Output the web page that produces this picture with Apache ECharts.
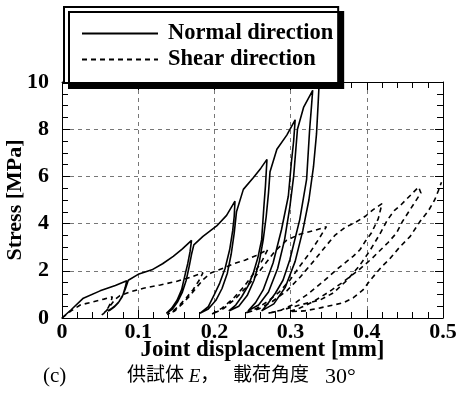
<!DOCTYPE html>
<html>
<head>
<meta charset="utf-8">
<script src="https://cdn.jsdelivr.net/npm/echarts@6/dist/echarts.min.js"></script>
<style>
  html, body { margin: 0; padding: 0; background: #fff; }
  #chart { width: 458px; height: 397px; }
</style>
</head>
<body>
<div id="chart"></div>
<script>
const seriesNames = ["Normal direction", "Shear direction"];
const xTickLabels = ["0", "0.1", "0.2", "0.3", "0.4", "0.5"];
const yTickLabels = ["0", "2", "4", "6", "8", "10"];
const xAxisTitle = "Joint displacement [mm]";
const yAxisTitle = "Stress [MPa]";
// caption pieces: (c) / 供試体 E， / 載荷角度 / 30°
const captionParts = ["(c)", "供試体 {i|E}，", "載荷角度", "30°"];

// normal direction: one continuous record, envelope + 6 unload/reload loops
const normalPath = [
  [0, 0], [0.012, 0.35], [0.028, 0.84], [0.05, 1.15], [0.07, 1.38], [0.085, 1.58],
  // loop 1
  [0.083, 1.3], [0.08, 0.98], [0.075, 0.7], [0.069, 0.5], [0.064, 0.38], [0.06, 0.3],
  [0.063, 0.33], [0.068, 0.45], [0.074, 0.65], [0.079, 0.9], [0.083, 1.22], [0.087, 1.6],
  [0.1, 1.85], [0.118, 2.04], [0.132, 2.3], [0.146, 2.61], [0.158, 2.93], [0.17, 3.29],
  // loop 2
  [0.168, 2.8], [0.165, 2.3], [0.162, 1.9], [0.157, 1.2], [0.151, 0.75], [0.144, 0.42], [0.137, 0.2],
  [0.145, 0.38], [0.152, 0.7], [0.158, 1.1], [0.163, 1.6], [0.167, 2.2], [0.17, 2.7], [0.173, 3.1],
  [0.185, 3.46], [0.203, 3.9], [0.216, 4.35], [0.227, 4.95],
  // loop 3
  [0.226, 4.3], [0.224, 3.7], [0.22, 2.89], [0.214, 2.1], [0.207, 1.48], [0.2, 1.0], [0.192, 0.48], [0.181, 0.2],
  [0.192, 0.38], [0.202, 0.75], [0.21, 1.25], [0.217, 1.9], [0.222, 2.7], [0.226, 3.6], [0.229, 4.5],
  [0.238, 5.45], [0.251, 5.94], [0.261, 6.35], [0.269, 6.72],
  // loop 4
  [0.267, 5.6], [0.265, 4.74], [0.262, 3.32], [0.257, 2.55], [0.251, 1.9], [0.244, 1.35], [0.236, 0.91], [0.228, 0.55], [0.219, 0.3],
  [0.232, 0.5], [0.243, 0.95], [0.252, 1.6], [0.259, 2.4], [0.264, 3.3], [0.268, 4.3], [0.271, 5.3], [0.273, 6.2],
  [0.282, 7.15], [0.295, 7.75], [0.306, 8.4],
  // loop 5
  [0.304, 7.5], [0.301, 6.58], [0.297, 5.16], [0.288, 3.74], [0.277, 2.33], [0.264, 1.19], [0.254, 0.65], [0.244, 0.3],
  [0.258, 0.55], [0.271, 1.1], [0.283, 2.1], [0.292, 3.3], [0.299, 4.7], [0.304, 6.0], [0.307, 7.2], [0.309, 8.0],
  [0.317, 8.92], [0.329, 9.65],
  // loop 6 + final loading
  [0.327, 8.8], [0.325, 8.0], [0.321, 5.87], [0.312, 4.17], [0.299, 2.47], [0.29, 1.6], [0.28, 1.05], [0.27, 0.6], [0.262, 0.3],
  [0.278, 0.6], [0.293, 1.3], [0.306, 2.4], [0.316, 3.7], [0.324, 5.0], [0.33, 6.4], [0.334, 7.8], [0.336, 9.0], [0.338, 10.3]
];

// shear direction
const shearPath = [
  [0, 0], [0.012, 0.3], [0.024, 0.55], [0.041, 0.69], [0.055, 0.8], [0.066, 0.9],
  [0.064, 0.65], [0.06, 0.4], [0.055, 0.2], [0.052, 0.13],
  [0.058, 0.3], [0.064, 0.55], [0.07, 0.8], [0.076, 0.95],
  [0.091, 1.12], [0.107, 1.26], [0.129, 1.4], [0.15, 1.55], [0.168, 1.72], [0.185, 1.92],
  [0.18, 1.6], [0.172, 1.2], [0.163, 0.85], [0.153, 0.5], [0.145, 0.28], [0.138, 0.15],
  [0.148, 0.3], [0.158, 0.6], [0.168, 0.95], [0.178, 1.35], [0.186, 1.65], [0.196, 1.92],
  [0.212, 2.11], [0.225, 2.3], [0.24, 2.45], [0.255, 2.65], [0.27, 2.9],
  [0.263, 2.45], [0.252, 1.9], [0.238, 1.3], [0.224, 0.8], [0.21, 0.42], [0.196, 0.15],
  [0.212, 0.4], [0.227, 0.8], [0.242, 1.3], [0.256, 1.85], [0.268, 2.35], [0.28, 2.85],
  [0.295, 3.3], [0.312, 3.55], [0.33, 3.7], [0.347, 3.87],
  [0.338, 3.4], [0.325, 2.75], [0.312, 2.19], [0.299, 1.6], [0.285, 1.1], [0.27, 0.7], [0.255, 0.4], [0.24, 0.2],
  [0.258, 0.38], [0.276, 0.7], [0.295, 1.15], [0.313, 1.75], [0.33, 2.4], [0.345, 3.0], [0.358, 3.5], [0.372, 3.85],
  [0.384, 4.03], [0.398, 4.31], [0.408, 4.58], [0.42, 4.85],
  [0.415, 4.2], [0.406, 3.6], [0.398, 3.25], [0.391, 2.89], [0.382, 2.61], [0.371, 2.33], [0.36, 2.04], [0.343, 1.55], [0.322, 1.0], [0.302, 0.55], [0.285, 0.3], [0.27, 0.2],
  [0.29, 0.35], [0.312, 0.55], [0.339, 0.77], [0.356, 1.06], [0.374, 1.6], [0.39, 2.2], [0.404, 2.85], [0.417, 3.55], [0.427, 4.15], [0.436, 4.55],
  [0.445, 4.8], [0.457, 5.19], [0.468, 5.55],
  [0.471, 5.3], [0.462, 4.85], [0.447, 4.1], [0.439, 3.6], [0.428, 3.2], [0.417, 2.85], [0.406, 2.5], [0.39, 2.05], [0.37, 1.55], [0.35, 1.1], [0.33, 0.7], [0.312, 0.42], [0.298, 0.27],
  [0.318, 0.3], [0.339, 0.43], [0.369, 0.64], [0.382, 0.85], [0.395, 1.19], [0.405, 1.62], [0.42, 2.19], [0.43, 2.5], [0.443, 3.0], [0.457, 3.46], [0.47, 4.1], [0.481, 4.55], [0.489, 5.0], [0.494, 5.4], [0.498, 5.75]
];

const serif = '"Liberation Serif", "Times New Roman", serif';
const capFont = '"Liberation Serif", "Noto Sans CJK JP", serif';

const chart = echarts.init(document.getElementById("chart"));

const black = { color: "#000", width: 1 };
const gridDash = { color: "#555", type: [4, 4], width: 0.8 };

// bottom/left axes carry labels, top/right ones only ticks
function xAx(main) {
  return {
    type: "value", min: 0, max: 0.5, interval: 0.1,
    position: main ? "bottom" : "top",
    axisLine: { show: true, onZero: false, lineStyle: black },
    axisTick: { show: true, inside: true, length: 8, lineStyle: black },
    minorTick: { show: true, splitNumber: 5, length: 6, lineStyle: black },
    axisLabel: main ? {
      color: "#000", fontFamily: serif, fontWeight: "bold", fontSize: 22, margin: 3,
      formatter: (v, i) => xTickLabels[i]
    } : { show: false },
    splitLine: { show: main, lineStyle: gridDash },
    name: main ? xAxisTitle : "",
    nameLocation: "middle",
    nameGap: 21,
    nameMoveOverlap: false,
    nameTextStyle: { color: "#000", fontFamily: serif, fontWeight: "bold", fontSize: 23, padding: [0, 0, 0, 20] }
  };
}
function yAx(main) {
  return {
    type: "value", min: 0, max: 10, interval: 2,
    position: main ? "left" : "right",
    axisLine: { show: true, onZero: false, lineStyle: black },
    axisTick: { show: true, inside: true, length: 8, lineStyle: black },
    minorTick: { show: true, splitNumber: 4, length: 6, lineStyle: black },
    axisLabel: main ? {
      color: "#000", fontFamily: serif, fontWeight: "bold", fontSize: 22, margin: 13,
      formatter: (v, i) => yTickLabels[i]
    } : { show: false },
    splitLine: { show: main, lineStyle: gridDash },
    name: main ? yAxisTitle : "",
    nameLocation: "middle",
    nameGap: 36,
    nameMoveOverlap: false,
    nameTextStyle: { color: "#000", fontFamily: serif, fontWeight: "bold", fontSize: 22 }
  };
}

const capStyle = { fontFamily: capFont, fontWeight: "normal", fontSize: 19, color: "#000",
  rich: { i: { fontFamily: serif, fontStyle: "italic", fontSize: 19, color: "#000" } } };

chart.setOption({
  animation: false,
  backgroundColor: "#fff",
  grid: { left: 62, right: 15, top: 82, bottom: 79, outerBoundsMode: "none" },
  title: [
    { text: captionParts[0], left: 43, top: 366, padding: 0, textStyle: Object.assign({}, capStyle, { fontSize: 21 }) },
    { text: captionParts[1], left: 127, top: 367, padding: 0, textStyle: capStyle },
    { text: captionParts[2], left: 233, top: 367, padding: 0, textStyle: capStyle },
    { text: captionParts[3], left: 325, top: 366, padding: 0, textStyle: Object.assign({}, capStyle, { fontFamily: serif, fontSize: 22 }) }
  ],
  legend: {
    orient: "vertical", left: 64, top: 7,
    padding: [15, 5, 12, 17], itemGap: 3,
    itemWidth: 76, itemHeight: 14,
    backgroundColor: "#fff", borderColor: "#000", borderWidth: 2,
    shadowColor: "#000", shadowBlur: 0, shadowOffsetX: 5, shadowOffsetY: 5,
    itemStyle: { opacity: 0 },
    textStyle: { color: "#000", fontFamily: serif, fontWeight: "bold", fontSize: 22.5, padding: [0, 0, 0, 5] },
    data: seriesNames
  },
  xAxis: [xAx(true), xAx(false)],
  yAxis: [yAx(true), yAx(false)],
  series: [
    { name: seriesNames[0], type: "line", data: normalPath, symbol: "none", smooth: false,
      lineStyle: { color: "#000", width: 1.6 }, itemStyle: { color: "#000" }, z: 3 },
    { name: seriesNames[1], type: "line", data: shearPath, symbol: "none", smooth: false,
      lineStyle: { color: "#000", width: 1.6, type: [5, 4] }, itemStyle: { color: "#000" }, z: 3 }
  ]
});
</script>
</body>
</html>
